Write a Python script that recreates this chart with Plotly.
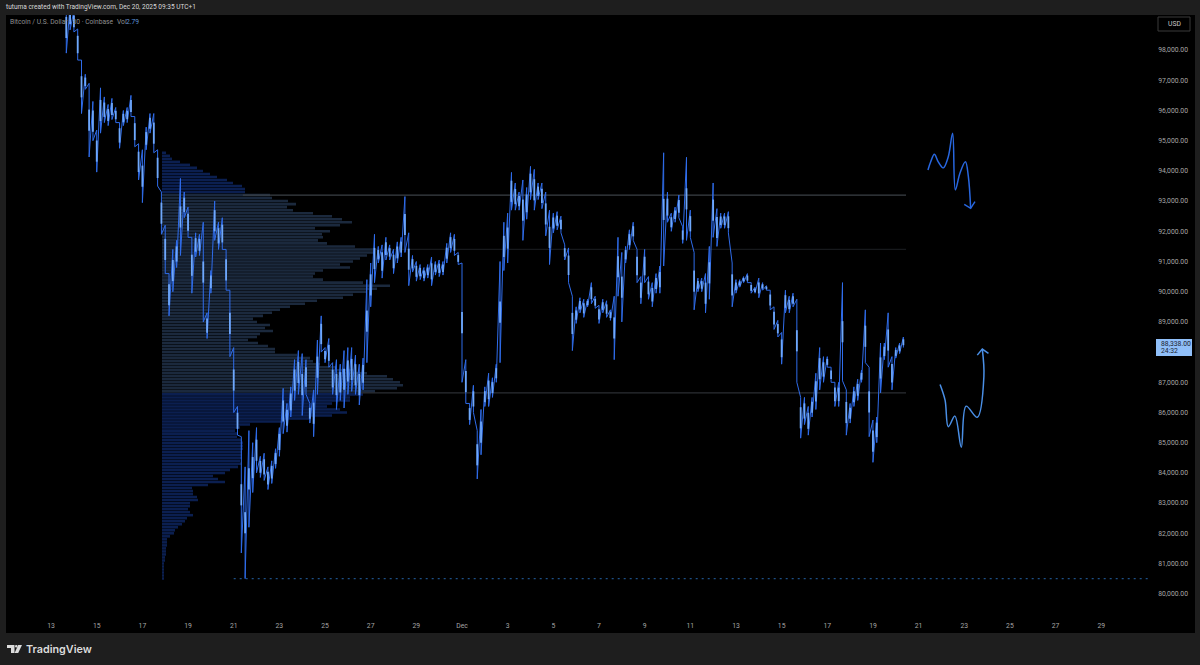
import numpy as np
import plotly.graph_objects as go

# ---------- data ----------
title_text = "tutuma created with TradingView.com, Dec 20, 2025 09:35 UTC+1"
symbol_text = "Bitcoin / U.S. Dollar · 30 · Coinbase"
vol_text = "Vol"
vol_value = "2.79"
last_price = "88,338.00"
countdown = "24:32"

# four-hourly high / low in thousands of USD, starting Nov 13 16:00
first_day = 13.667
bar_high = [99.6, 99.5,
    99.3, 98.7, 97.67, 97.2, 96.9, 96.3, 95.35, 96.75, 96.45, 96.2, 96.4, 96.1,
    95.6, 96.0, 96.1, 96.5, 95.8, 94.9, 94.7, 95.45, 95.9, 95.9, 94.7, 93.3,
    92.2, 90.6, 91.4, 91.7, 93.75, 93.3, 92.8, 91.8, 91.95, 91.9, 92.3, 89.3,
    90.7, 93.0, 92.3, 92.45, 91.4, 90.05, 88.15, 86.2, 85.2, 84.2, 85.4, 85.0,
    85.5, 84.55, 84.65, 84.2, 84.4, 84.8, 85.5, 86.8, 86.3, 86.85, 87.75, 88.05,
    87.95, 87.75, 86.3, 86.75, 88.4, 89.2, 88.15, 88.45, 87.65, 87.75, 87.6, 88.05,
    88.15, 88.15, 87.9, 87.6, 87.8, 90.4, 90.95, 91.9, 91.5, 91.55, 91.8, 91.55,
    91.4, 91.65, 91.8, 93.15, 91.95, 91.2, 91.0, 90.9, 90.8, 90.9, 91.15, 91.0,
    91.05, 91.0, 91.6, 91.95, 91.9, 91.3, 90.95, 87.75, 86.3, 86.9, 85.4, 86.1,
    86.85, 87.3, 87.15, 87.6, 91.0, 92.3, 92.6, 93.95, 93.6, 93.3, 93.7, 93.45,
    94.15, 94.05, 93.6, 93.6, 93.3, 92.7, 92.6, 92.65, 92.5, 91.55, 91.45, 89.85,
    89.5, 89.8, 89.75, 89.75, 90.3, 89.85, 89.55, 89.75, 89.7, 89.4, 89.85, 91.8,
    91.3, 91.5, 92.05, 92.3, 91.4, 90.5, 91.4, 90.5, 90.3, 90.6, 90.85, 94.6,
    93.3, 92.6, 92.8, 93.2, 92.15, 94.45, 92.7, 91.3, 90.45, 90.45, 90.6, 91.5,
    93.6, 92.75, 92.6, 92.6, 92.65, 90.95, 90.4, 90.4, 90.5, 90.6, 90.3, 90.15,
    90.45, 90.3, 90.2, 90.05, 89.5, 89.05, 88.65, 90.05, 89.85, 89.95, 89.75, 86.5,
    86.5, 86.2, 86.5, 87.3, 88.15, 87.85, 87.85, 87.5, 87.0, 87.0, 90.3, 86.75,
    86.3, 86.85, 87.1, 87.4, 89.4, 87.5, 85.75, 85.85, 88.3, 88.3, 89.3, 87.85,
    88.15, 88.3, 88.5]
bar_low = [97.9, 98.67,
    98.6, 97.67, 95.9, 96.7, 94.46, 95.0, 93.96, 95.25, 95.6, 95.5, 95.7, 95.6,
    94.75, 95.5, 95.6, 95.8, 94.8, 93.7, 92.95, 94.7, 95.25, 94.6, 93.5, 91.9,
    90.6, 89.2, 90.0, 90.8, 91.2, 92.45, 91.8, 89.95, 91.15, 91.2, 89.0, 88.45,
    89.95, 91.7, 91.4, 91.4, 90.05, 87.85, 86.0, 85.25, 81.35, 80.5, 82.2, 83.35,
    84.0, 83.85, 83.75, 83.45, 83.65, 84.15, 84.55, 85.3, 85.35, 85.85, 86.4, 86.6,
    85.9, 86.6, 85.65, 85.2, 86.6, 88.0, 87.65, 87.5, 86.6, 86.1, 86.4, 86.15,
    86.6, 86.7, 86.6, 86.25, 86.75, 87.65, 89.5, 90.3, 90.95, 90.45, 91.05, 91.05,
    90.6, 90.95, 91.15, 91.3, 90.2, 90.65, 90.35, 90.4, 90.35, 90.45, 90.2, 90.55,
    90.5, 90.55, 90.95, 91.3, 91.2, 90.9, 87.0, 86.3, 85.6, 86.0, 83.8, 84.6,
    86.2, 86.2, 86.5, 87.0, 87.65, 90.7, 90.95, 92.7, 92.7, 92.7, 91.7, 92.4,
    93.05, 92.7, 93.05, 92.75, 91.85, 90.9, 91.95, 92.05, 91.95, 91.05, 90.3, 88.05,
    88.95, 89.3, 89.15, 89.5, 89.6, 89.45, 88.95, 89.3, 89.15, 89.05, 87.75, 89.85,
    89.0, 90.95, 91.4, 91.7, 90.3, 89.6, 90.3, 89.75, 89.5, 89.95, 89.95, 90.85,
    92.3, 92.0, 92.3, 92.45, 91.6, 91.7, 91.8, 89.4, 90.0, 90.0, 89.3, 89.75,
    91.8, 91.5, 92.1, 92.1, 91.95, 89.5, 89.95, 90.15, 90.3, 90.3, 89.95, 89.95,
    89.8, 90.05, 90.05, 89.4, 88.75, 88.5, 87.6, 89.3, 89.3, 89.5, 87.0, 85.15,
    85.6, 85.25, 85.85, 86.1, 86.75, 87.0, 87.5, 87.0, 86.2, 86.2, 87.05, 85.25,
    85.65, 86.2, 86.4, 87.0, 87.65, 85.2, 84.35, 85.0, 86.65, 87.75, 87.5, 86.75,
    87.8, 87.95, 88.15]

# volume profile: relative volume per 100 USD row, top row 94,600 USD
profile_top = 94600
profile_volume = [
    4, 8, 10, 18, 28, 35, 41, 48, 55, 65, 71, 80, 83, 83, 108,
    110, 126, 134, 125, 131, 151, 170, 180, 190, 178, 153, 168, 160, 161, 156,
    165, 193, 211, 211, 205, 198, 191, 178, 188, 161, 153, 151, 161, 201, 228,
    215, 205, 191, 181, 155, 143, 128, 118, 110, 101, 91, 95, 108, 103, 111,
    98, 95, 86, 96, 106, 113, 113, 135, 148, 151, 158, 175, 191, 205, 225,
    231, 238, 241, 235, 213,
    201, 188, 188, 170, 165, 178, 185, 170, 148, 121, 88, 78, 73, 76, 75,
    80, 81, 81, 81, 80, 80, 80, 78, 79, 76, 68, 63, 51, 56, 63,
    46, 30, 31, 31, 35, 36, 28, 28, 26, 28, 31, 25, 23, 20, 16,
    13, 12, 8, 5, 5, 5, 4, 4, 4, 3, 3, 2, 2, 2, 2, 2, 2]
value_area_high = 93200
value_area_low = 86700

# horizontal levels: price, first day, last day
level_prices = [93200, 91400, 86650]
level_start = [21.4, 27.1, 26.5]
level_end = [50.45, 50.45, 50.45]
low_level_price = 80500
low_level_days = [21.0, 61.1]

# hand-drawn arrows (day, thousands of USD)
down_days = [51.41, 51.53, 51.69, 51.86, 52.08, 52.3, 52.49, 52.61, 52.81, 53.05, 53.18, 53.28]
down_price = [94.03, 94.3, 94.55, 94.3, 94.1, 94.47, 95.25, 93.37, 93.92, 94.3, 93.81, 92.76]
down_head_days = [53.0, 53.28, 53.47]
down_head_price = [92.89, 92.76, 92.98]
up_days = [51.94, 52.16, 52.3, 52.59, 52.87, 53.08, 53.57, 53.86, 53.79]
up_price = [86.93, 86.41, 85.53, 85.88, 84.85, 86.21, 85.84, 87.19, 88.1]
up_head_days = [53.57, 53.79, 54.06]
up_head_price = [87.9, 88.1, 87.96]

# axis labels
y_tick_values = [98, 97, 96, 95, 94, 93, 92, 91, 90, 89, 87, 86, 85, 84, 83, 82, 81, 80]
x_tick_days = [13, 15, 17, 19, 21, 23, 25, 27, 29, 31, 33, 35, 37, 39, 41, 43, 45, 47, 49, 51, 53, 55, 57, 59]
x_tick_labels = ["13", "15", "17", "19", "21", "23", "25", "27", "29", "Dec", "3", "5", "7", "9",
                 "11", "13", "15", "17", "19", "21", "23", "25", "27", "29"]

# ---------- drawing ----------
W, H = 1200, 665
L, R, T, B = 6, 1195, 15, 633
FONT = "Roboto, Arial, sans-serif"


def px(x):
    return (x - L) / (R - L)


def py(y):
    return 1 - (y - T) / (B - T)


high = np.array(bar_high) * 1000
low = np.array(bar_low) * 1000
days = first_day + np.arange(len(high)) / 6
zig_x = np.repeat(days, 2)
zig_y = np.column_stack([high, low]).ravel()
# candle bodies: the middle of each bar's range
body_half = np.minimum((high - low) * 0.28, 350)
mid = (high + low) / 2
body_x = np.column_stack([days, days, np.full_like(days, np.nan)]).ravel()
body_y = np.column_stack([mid + body_half, mid - body_half, np.full_like(days, np.nan)]).ravel()

rows = profile_top - 100 * np.arange(len(profile_volume))
row_colors = ["#1b293d" if value_area_low <= r <= value_area_high else "#0b1f50" for r in rows]

fig = go.Figure()
fig.add_trace(go.Bar(y=rows, x=profile_volume, orientation="h", width=84, marker_color=row_colors,
                     marker_line_width=0, xaxis="x", yaxis="y", hoverinfo="skip"))


def line(x, y, color, width, dash="solid", shape="linear", smoothing=None):
    ln = dict(color=color, width=width, dash=dash, shape=shape)
    if smoothing is not None:
        ln["smoothing"] = smoothing
    fig.add_trace(go.Scatter(x=x, y=y, mode="lines", line=ln, xaxis="x2", yaxis="y", hoverinfo="skip",
                             connectgaps=False))


level_colors = ["#3b4046", "#17191c", "#2b2e33"]
for p, s, e, c in zip(level_prices, level_start, level_end, level_colors):
    line([s, e], [p, p], c, 1.2)
line(low_level_days, [low_level_price, low_level_price], "#1d4f86", 1.2, dash="2px,4px")

line(zig_x, zig_y, "#2f6cea", 1.0)
line(body_x, body_y, "#6fa8fb", 1.8)

blue_a, blue_b = "#2867e0", "#4a8fe6"
line(down_days, np.array(down_price) * 1000, blue_a, 1.5, shape="spline", smoothing=1.0)
line(down_head_days, np.array(down_head_price) * 1000, blue_a, 1.5)
line(up_days, np.array(up_price) * 1000, blue_b, 1.5, shape="spline", smoothing=1.0)
line(up_head_days, np.array(up_head_price) * 1000, blue_b, 1.5)

# day -> pixel: 22.83 px per day, day 31 at x=462 ; volume: 1 unit per px, 0 at x=162
day_range = [31 + (L - 462) / 22.83, 31 + (R - 462) / 22.83]
vol_range = [L - 162, R - 162]
# USD -> pixel: 30.2 px per 1000, 95,000 at y=140.7
y_range = [95000 - (B - 140.7) / 30.2 * 1000, 95000 + (140.7 - T) / 30.2 * 1000]

tick_font = dict(family=FONT, size=6.8, color="#a6a6a6")
fig.update_layout(
    width=W, height=H, showlegend=False, autosize=False,
    margin=dict(l=L, r=W - R, t=T, b=H - B, pad=0),
    paper_bgcolor="#1e1e1e", plot_bgcolor="#000000",
    barmode="overlay",
    xaxis=dict(range=vol_range, visible=False, fixedrange=True),
    xaxis2=dict(range=day_range, overlaying="x", anchor="y", side="bottom",
                tickmode="array", tickvals=x_tick_days, ticktext=x_tick_labels,
                ticklabelposition="inside", ticks="", showgrid=False, zeroline=False,
                showline=False, tickfont=tick_font, ticklabelstandoff=1),
    yaxis=dict(range=y_range, side="right", tickmode="array",
               tickvals=[v * 1000 for v in y_tick_values],
               ticktext=[f"{v * 1000:,}.00" for v in y_tick_values],
               ticklabelposition="inside", ticks="", showgrid=False, zeroline=False,
               showline=False, tickfont=tick_font, ticklabelstandoff=4),
)


def text(x, y, s, size, color, anchor="left", weight=None, family=FONT):
    fig.add_annotation(xref="paper", yref="paper", x=px(x), y=py(y), text=s, showarrow=False,
                       xanchor=anchor, yanchor="middle",
                       font=dict(family=family, size=size, color=color, weight=weight),
                       borderpad=0, borderwidth=0)


text(5.5, 7.5, title_text, 6.55, "#d8d8d8", weight=400)
text(9.5, 22, symbol_text, 6.7, "#8f8f8f")
text(116.5, 22, vol_text, 6.7, "#8f8f8f")
text(126, 22, vol_value, 6.7, "#5d93d8")

# USD box
fig.add_shape(type="rect", xref="paper", yref="paper", x0=px(1158), x1=px(1190), y0=py(17), y1=py(31),
              line=dict(color="#3a3a3a", width=1), fillcolor="#000000", layer="above")
text(1174, 24, "USD", 6.8, "#c8c8c8", anchor="center")

# last price tag
fig.add_shape(type="rect", xref="paper", yref="paper", x0=px(1156), x1=px(1192), y0=py(339), y1=py(356),
              line=dict(width=0), fillcolor="#90bff9", layer="above")
text(1161, 343.5, last_price, 6.8, "#1a2430")
text(1161, 351, countdown, 6.8, "#1a2430")

# footer wordmark
text(26, 649, "TradingView", 10.8, "#dcdcdc", weight=600, family="Inter, Roboto, sans-serif")
LOGO = "#dcdcdc"
fig.add_shape(type="path", xref="paper", yref="paper", line=dict(width=0), fillcolor=LOGO, layer="above",
              path=f"M{px(7)},{py(645)} L{px(14.5)},{py(645)} L{px(14.5)},{py(653)} L{px(11)},{py(653)} "
                   f"L{px(11)},{py(648)} L{px(7)},{py(648)} Z")
fig.add_shape(type="circle", xref="paper", yref="paper", x0=px(15), x1=px(17.6), y0=py(647.6), y1=py(645),
              line=dict(width=0), fillcolor=LOGO, layer="above")
fig.add_shape(type="path", xref="paper", yref="paper", line=dict(width=0), fillcolor=LOGO, layer="above",
              path=f"M{px(18.2)},{py(645)} L{px(22)},{py(645)} L{px(18.2)},{py(653)} L{px(14.6)},{py(653)} Z")

fig.write_html("out.html", config=dict(displayModeBar=False),
               post_script="document.body.style.margin='0';document.body.style.background='#1e1e1e';")
